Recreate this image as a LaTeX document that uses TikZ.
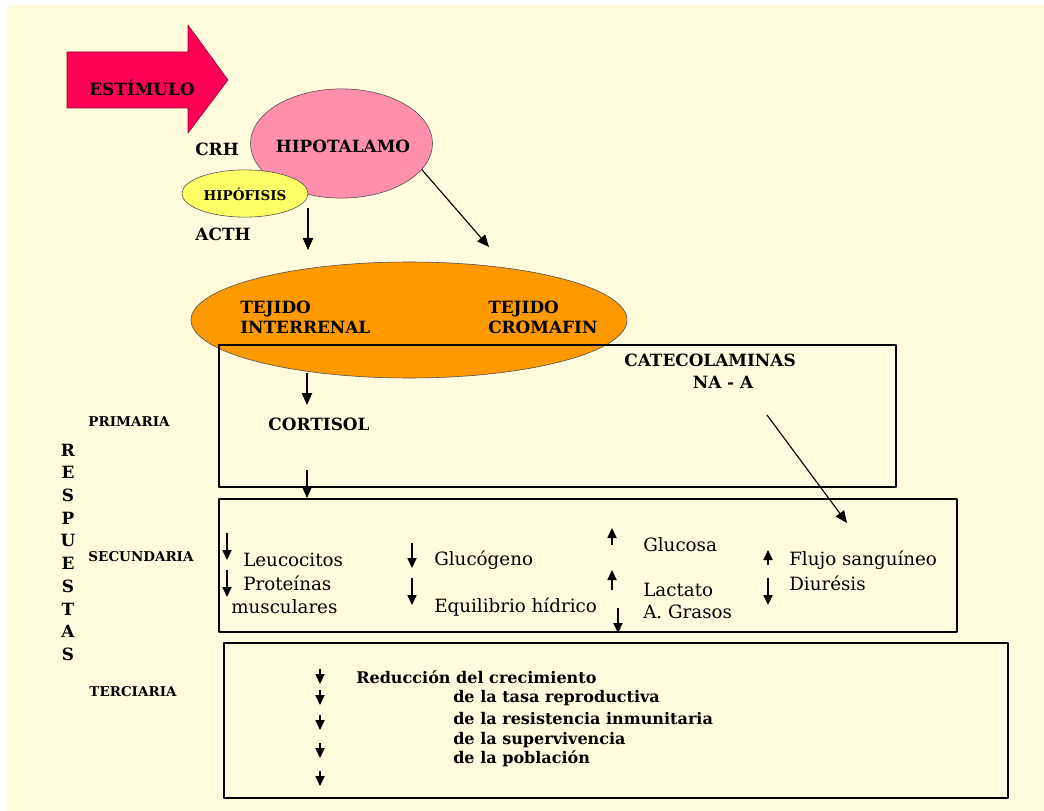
\documentclass[tikz,border=0pt]{standalone}
\usepackage{fontspec}
\setmainfont{DejaVu Serif}
\usepackage{tikz}
\usetikzlibrary{arrows.meta,shapes.geometric}
\definecolor{crema}{RGB}{255,251,221}
\definecolor{rojo}{RGB}{255,0,85}
\definecolor{rosa}{RGB}{255,143,171}
\definecolor{amarillo}{RGB}{255,255,102}
\definecolor{naranja}{RGB}{255,153,0}

\begin{document}
\begin{tikzpicture}[line join=round,>={Triangle[length=3mm,width=2.6mm]},x=0.25cm,y=0.25cm,
    tit/.style={font=\bfseries\fontsize{12}{14}\selectfont,inner sep=0pt},
    chico/.style={font=\bfseries\fontsize{9.6}{11}\selectfont,inner sep=0pt},
    txt/.style={font=\fontsize{13}{15}\selectfont,inner sep=0pt,anchor=west},
    ter/.style={font=\bfseries\fontsize{11.4}{13}\selectfont,inner sep=0pt,anchor=west},
    elip/.style={ellipse,draw=black!70,line width=0.4pt,inner sep=0pt},
    caja/.style={draw=black,line width=1.3pt},
    flecha/.style={->,line width=0.8pt},
    marca/.style={-{Triangle[length=2.5mm,width=2.3mm]},line width=0.8pt}]
  \useasboundingbox (0,0) rectangle (104.4,-81.1);
  \fill[crema] (0.7,-0.5) rectangle (104.4,-81.1);

  % estimulo
  \filldraw[fill=rojo,draw=rojo!60!black,line width=0.4pt]
    (6.7,-5.2) -- (18.8,-5.2) -- (18.8,-2.5) -- (22.8,-8.0)
    -- (18.8,-13.3) -- (18.8,-10.8) -- (6.7,-10.8) -- cycle;
  \node[tit] (estimulo) at (14.2,-8.8) {ESTÍMULO};

  % eje hipotalamo - hipofisis
  \node[elip,fill=rosa,minimum width=4.55cm,minimum height=2.73cm] (hipo) at (34.15,-14.35) {};
  \node[tit] (hipotalamo) at (34.3,-14.6) {HIPOTALAMO};
  \node[elip,fill=amarillo,minimum width=3.15cm,minimum height=1.18cm] (hipof) at (24.5,-19.35) {};
  \node[chico] (hipofisis) at (24.5,-19.4) {HIPÓFISIS};
  \node[tit] (crh) at (21.7,-14.9) {CRH};
  \node[tit] (acth) at (22.3,-23.4) {ACTH};

  \coordinate (a1) at (30.8,-20.8);
  \coordinate (a2) at (30.8,-25.0);
  \coordinate (b2) at (48.9,-24.7);
  \draw[flecha] (a1) -- (a2);
  \draw[flecha] (hipo.-18) -- (b2);

  % tejidos
  \node[elip,fill=naranja,minimum width=10.9cm,minimum height=2.9cm] (tejido) at (40.9,-32.0) {};
  \node[tit,anchor=west,align=left] (interrenal) at (24.0,-31.75) {TEJIDO\\INTERRENAL};
  \node[tit,anchor=west,align=left] (cromafin) at (48.8,-31.75) {TEJIDO\\CROMAFIN};

  % cajas
  \draw[caja] (21.9,-34.5) rectangle (89.6,-48.7);
  \draw[caja] (21.9,-49.9) rectangle (95.7,-63.2);
  \draw[caja] (22.4,-64.3) rectangle (100.8,-79.8);

  % primaria
  \node[tit] (catecol) at (71.0,-36.0) {CATECOLAMINAS};
  \node[tit] (naa) at (72.3,-38.2) {NA - A};
  \node[tit] (cortisol) at (31.9,-42.4) {CORTISOL};
  \coordinate (c1) at (30.7,-37.3);
  \coordinate (c2) at (30.7,-40.5);
  \coordinate (d1) at (30.7,-47.0);
  \coordinate (d2) at (30.7,-49.8);
  \coordinate (e1) at (76.7,-41.5);
  \coordinate (e2) at (84.7,-52.3);
  \draw[flecha] (c1) -- (c2);
  \draw[flecha] (d1) -- (d2);
  \draw[flecha] (e1) -- (e2);

  % rotulos
  \node[chico] (primaria) at (12.9,-42.2) {PRIMARIA};
  \node[chico] (secundaria) at (14.1,-55.7) {SECUNDARIA};
  \node[chico] (terciaria) at (13.3,-69.2) {TERCIARIA};
  \foreach \l [count=\i from 0] in {R,E,S,P,U,E,S,T,A,S}
    \node[tit] (resp\i) at (6.8,-45.0-2.27*\i) {\l};

  % secundaria
  \node[txt] (leuco) at (24.3,-56.0) {Leucocitos};
  \node[txt] (prot) at (24.3,-58.3) {Proteínas};
  \node[txt] (musc) at (23.1,-60.7) {musculares};
  \node[txt] (gluco) at (43.4,-56.0) {Glucógeno};
  \node[txt] (equil) at (43.4,-60.7) {Equilibrio hídrico};
  \node[txt] (glucosa) at (64.3,-54.5) {Glucosa};
  \node[txt] (lact) at (64.3,-59.0) {Lactato};
  \node[txt] (grasos) at (64.3,-61.2) {A. Grasos};
  \node[txt] (flujo) at (78.9,-56.0) {Flujo sanguíneo};
  \node[txt] (diur) at (78.9,-58.3) {Diurésis};

  \draw[marca] (22.7,-53.3) -- (22.7,-56.0);
  \draw[marca] (22.7,-57.0) -- (22.7,-59.7);
  \draw[marca] (41.2,-54.3) -- (41.2,-56.8);
  \draw[marca] (41.2,-57.8) -- (41.2,-60.5);
  \draw[marca] (61.2,-54.5) -- (61.2,-52.8);
  \draw[marca] (61.2,-59.0) -- (61.2,-57.0);
  \draw[marca] (61.8,-60.8) -- (61.8,-63.3);
  \draw[marca] (76.8,-56.5) -- (76.8,-55.0);
  \draw[marca] (76.8,-57.8) -- (76.8,-60.5);

  % terciaria
  \foreach \y in {66.9,69.0,71.5,74.3,77.1}
    \draw[marca] (32.0,-\y) -- (32.0,-\y-1.5);
  \node[ter] (reduc) at (35.6,-67.7) {Reducción del crecimiento};
  \node[ter] (tasa) at (45.3,-69.8) {de la tasa reproductiva};
  \node[ter] (resist) at (45.3,-71.9) {de la resistencia inmunitaria};
  \node[ter] (superv) at (45.3,-74.0) {de la supervivencia};
  \node[ter] (pobl) at (45.3,-75.9) {de la población};

\end{tikzpicture}
\end{document}
